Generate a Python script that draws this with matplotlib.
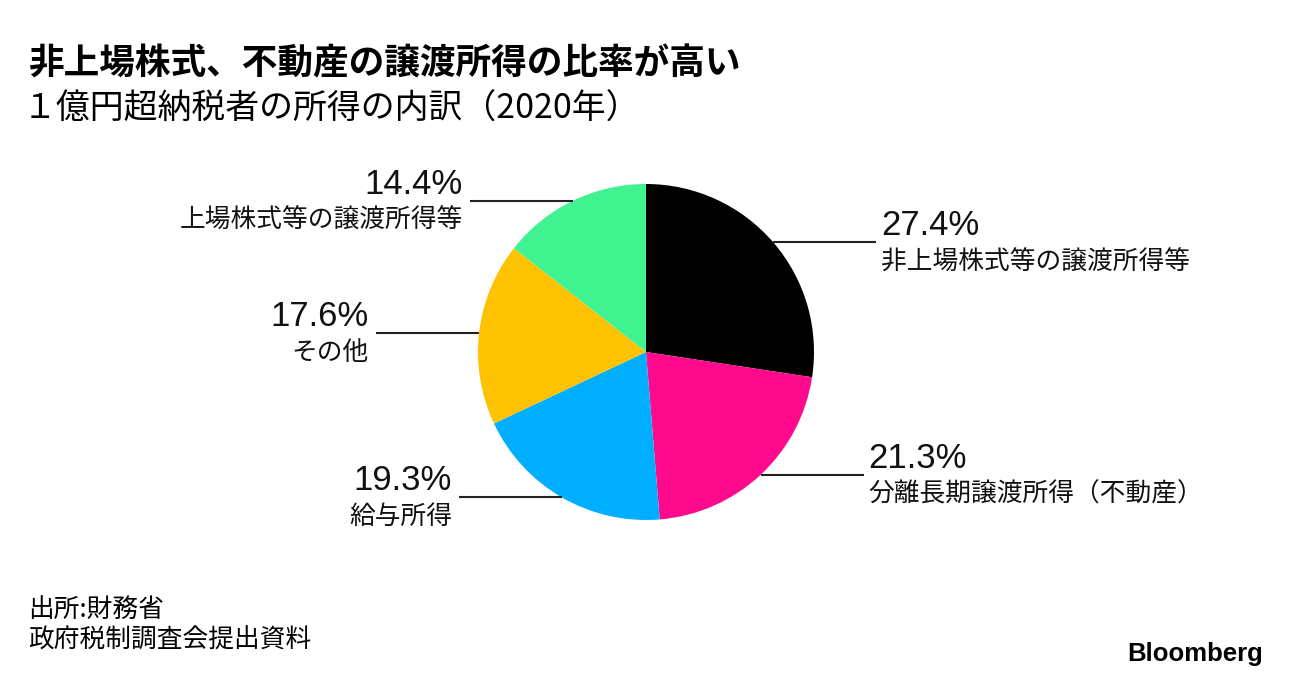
import math

import matplotlib

matplotlib.use("Agg")
import matplotlib.pyplot as plt

plt.rcParams["font.family"] = ["Noto Sans CJK JP", "DejaVu Sans"]

W, H = 1292, 678

# data, clockwise from 12 o'clock
categories = [
    "非上場株式等の譲渡所得等",
    "分離長期譲渡所得（不動産）",
    "給与所得",
    "その他",
    "上場株式等の譲渡所得等",
]
shares = [27.4, 21.3, 19.3, 17.6, 14.4]
colors = ["#000000", "#ff0a8c", "#00aeff", "#ffc200", "#40f290"]

title = "非上場株式、不動産の譲渡所得の比率が高い"
subtitle = "１億円超納税者の所得の内訳（2020年）"
source_lines = ["出所:財務省", "政府税制調査会提出資料"]

fig = plt.figure(figsize=(W / 100, H / 100), dpi=100)
ax = fig.add_axes([0, 0, 1, 1])

cx, cy, r = 646, H - 352, 168
ax.pie(
    shares,
    colors=colors,
    startangle=90,
    counterclock=False,
    center=(cx, cy),
    radius=r,
    wedgeprops={"linewidth": 0},
    frame=True,
)
ax.set_xlim(0, W)
ax.set_ylim(0, H)
ax.set_aspect("equal")
ax.axis("off")

# connector lines + labels
line_len = 103
cum = 0.0
for cat, val in zip(categories, shares):
    mid = cum + val / 2
    cum += val
    ang = math.radians(90 - mid / 100 * 360)
    x0 = cx + r * math.cos(ang)
    y0 = cy + r * math.sin(ang)
    if math.cos(ang) > 0:
        x1 = x0 + line_len
        tx, ha = x1 + 5, "left"
    else:
        x1 = x0 - line_len
        tx, ha = x1 - 7, "right"
    ax.plot([x0, x1], [y0, y0], color="#222222", linewidth=1.5, solid_capstyle="butt", zorder=3)
    ax.text(tx, y0 + 7, f"{val:.1f}%", ha=ha, va="baseline", fontsize=25,
            family=["Liberation Sans", "DejaVu Sans"], color="#111111")
    ax.text(tx, y0 - 7, cat, ha=ha, va="top", fontsize=18.5, color="#111111")

# titles
fig.text(28 / W, 1 - 74 / H, title, fontsize=25.7, fontweight="bold", ha="left", va="baseline")
fig.text(23 / W, 1 - 118 / H, subtitle, fontsize=24.4, ha="left", va="baseline")

# source
fig.text(28 / W, 1 - 618 / H, source_lines[0], fontsize=18.5, ha="left", va="baseline")
fig.text(28 / W, 1 - 648 / H, source_lines[1], fontsize=18.5, ha="left", va="baseline")

# logo
fig.text(1263 / W, 1 - 661 / H, "Bloomberg", fontsize=18.5, fontweight="bold",
         family=["Liberation Sans", "DejaVu Sans"], ha="right", va="baseline")

fig.savefig("out.png", dpi=100, facecolor="white")
plt.close(fig)
